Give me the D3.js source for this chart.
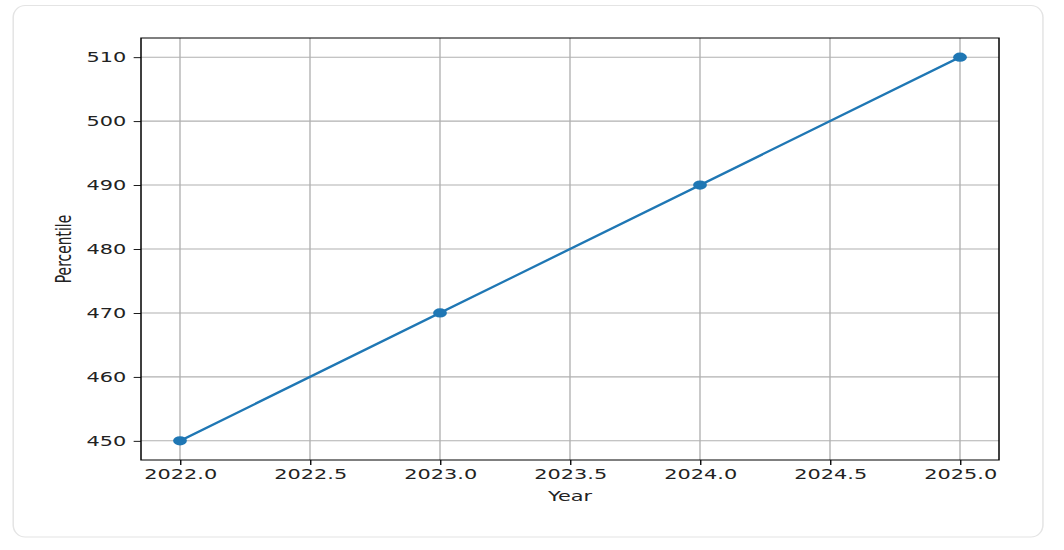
<!DOCTYPE html>
<html>
<head>
<meta charset="utf-8">
<script src="https://cdn.jsdelivr.net/npm/d3@7/dist/d3.min.js"></script>
<style>
  html, body { margin: 0; padding: 0; background: #fff; }
  svg { display: block; }
  text { font-family: "DejaVu Sans", sans-serif; fill: #222; }
</style>
</head>
<body>
<svg id="chart"></svg>
<script>
const years = [2022, 2023, 2024, 2025];
const percentiles = [450, 470, 490, 510];
const xTicks = [2022, 2022.5, 2023, 2023.5, 2024, 2024.5, 2025];
const yTicks = [450, 460, 470, 480, 490, 500, 510];

// the reference picture is stretched sideways, so draw in a narrower frame and stretch it
const STRETCH = 1.5;
const W = 1064, H = 550;
const VW = W / STRETCH;
const plot = { left: 94, right: 666, top: 38, bottom: 460 };
const FONT = 13.9;

const svg = d3.select('#chart')
  .attr('width', W)
  .attr('height', H)
  .attr('viewBox', `0 0 ${VW} ${H}`)
  .attr('preserveAspectRatio', 'none');

svg.append('rect')
  .attr('x', 8.8).attr('y', 5.5)
  .attr('width', 695.3 - 8.8).attr('height', 537 - 5.5)
  .attr('rx', 8).attr('ry', 12)
  .attr('fill', '#fff')
  .attr('stroke', '#e4e4e4')
  .attr('stroke-width', 1);

const pad = 0.05;
const xr = d3.extent(years), yr = d3.extent(percentiles);
const x = d3.scaleLinear()
  .domain([xr[0] - (xr[1] - xr[0]) * pad, xr[1] + (xr[1] - xr[0]) * pad])
  .range([plot.left, plot.right]);
const y = d3.scaleLinear()
  .domain([yr[0] - (yr[1] - yr[0]) * pad, yr[1] + (yr[1] - yr[0]) * pad])
  .range([plot.bottom, plot.top]);

// grid
const grid = svg.append('g');
grid.selectAll('line.gx').data(xTicks).join('line')
  .attr('x1', d => x(d)).attr('x2', d => x(d))
  .attr('y1', plot.top).attr('y2', plot.bottom)
  .attr('stroke', '#b0b0b0').attr('stroke-width', 0.9);
grid.selectAll('line.gy').data(yTicks).join('line')
  .attr('x1', plot.left).attr('x2', plot.right)
  .attr('y1', d => y(d)).attr('y2', d => y(d))
  .attr('stroke', '#b0b0b0').attr('stroke-width', 1.1);

// axes
const xAxis = d3.axisBottom(x).tickValues(xTicks).tickFormat(d3.format('.1f'))
  .tickSize(4.9).tickPadding(4.2).tickSizeOuter(0);
const yAxis = d3.axisLeft(y).tickValues(yTicks).tickFormat(d3.format('d'))
  .tickSize(4.9).tickPadding(4.9).tickSizeOuter(0);

const gx = svg.append('g').attr('transform', `translate(0,${plot.bottom})`).call(xAxis);
const gy = svg.append('g').attr('transform', `translate(${plot.left},0)`).call(yAxis);
[gx, gy].forEach(g => {
  g.select('.domain').remove();
  g.selectAll('.tick line').attr('stroke', '#000').attr('stroke-width', 0.9);
  g.selectAll('.tick text').attr('font-size', FONT).attr('fill', '#222')
    .attr('font-family', '"DejaVu Sans", sans-serif');
});

// series
svg.append('path')
  .datum(years.map((d, i) => [d, percentiles[i]]))
  .attr('fill', 'none')
  .attr('stroke', '#1f77b4')
  .attr('stroke-width', 2.1)
  .attr('d', d3.line().x(d => x(d[0])).y(d => y(d[1])));

svg.append('g').selectAll('circle')
  .data(years.map((d, i) => [d, percentiles[i]]))
  .join('circle')
  .attr('cx', d => x(d[0]))
  .attr('cy', d => y(d[1]))
  .attr('r', 4.6)
  .attr('fill', '#1f77b4');

// frame
svg.append('rect')
  .attr('x', plot.left).attr('y', plot.top)
  .attr('width', plot.right - plot.left).attr('height', plot.bottom - plot.top)
  .attr('fill', 'none').attr('stroke', '#000').attr('stroke-width', 1);

// labels
svg.append('text')
  .attr('x', (plot.left + plot.right) / 2)
  .attr('y', 501)
  .attr('text-anchor', 'middle')
  .attr('font-size', FONT)
  .text('Year');

svg.append('text')
  .attr('transform', `translate(47.5,${(plot.top + plot.bottom) / 2}) rotate(-90)`)
  .attr('text-anchor', 'middle')
  .attr('font-size', FONT)
  .text('Percentile');
</script>
</body>
</html>
